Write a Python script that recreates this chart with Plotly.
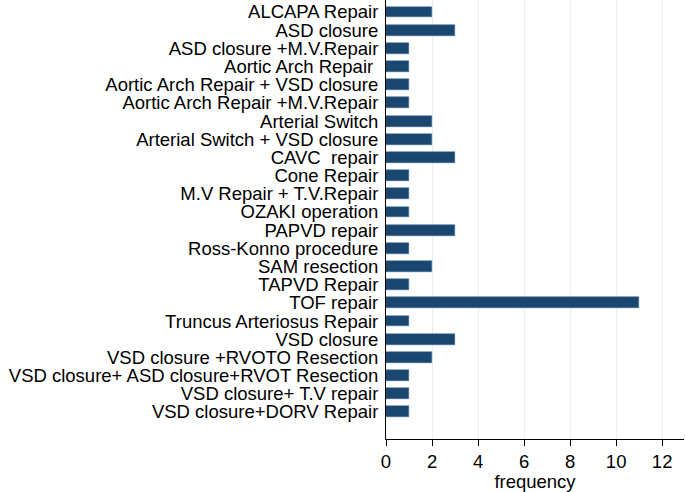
import plotly.graph_objects as go

categories = [
    "ALCAPA Repair",
    "ASD closure",
    "ASD closure +M.V.Repair",
    "Aortic Arch Repair\u00a0",
    "Aortic Arch Repair + VSD closure",
    "Aortic Arch Repair +M.V.Repair",
    "Arterial Switch",
    "Arterial Switch + VSD closure",
    "CAVC\u00a0 repair",
    "Cone Repair",
    "M.V Repair + T.V.Repair",
    "OZAKI operation",
    "PAPVD repair",
    "Ross-Konno procedure",
    "SAM resection",
    "TAPVD Repair",
    "TOF repair",
    "Truncus Arteriosus Repair",
    "VSD closure",
    "VSD closure +RVOTO Resection",
    "VSD closure+ ASD closure+RVOT Resection",
    "VSD closure+ T.V repair",
    "VSD closure+DORV Repair",
]
frequency = [2, 3, 1, 1, 1, 1, 2, 2, 3, 1, 1, 1, 3, 1, 2, 1, 11, 1, 3, 2, 1, 1, 1]
x_ticks = [0, 2, 4, 6, 8, 10, 12]

FS = 18.5

fig = go.Figure(go.Bar(
    x=frequency,
    y=list(range(len(categories))),
    orientation="h",
    width=0.6,
    marker=dict(color="#1a476f", line=dict(color="#3a6a94", width=0.5)),
))

fig.update_layout(
    width=685, height=492,
    margin=dict(l=386, r=1, t=0, b=53, autoexpand=False),
    paper_bgcolor="white", plot_bgcolor="white",
    font=dict(family="Liberation Sans, Arial, sans-serif", color="black", size=FS),
    showlegend=False,
    bargap=0,
)
fig.update_xaxes(
    range=[0, 12.95],
    tickvals=x_ticks,
    ticks="outside", ticklen=6, tickcolor="black",
    showline=True, linecolor="black", linewidth=1,
    showgrid=True, gridcolor="#e6eff3", gridwidth=1,
    zeroline=False, automargin=False,
    title=dict(text="frequency", standoff=2, font=dict(size=FS)),
    tickfont=dict(size=FS),
)
fig.update_yaxes(
    tickvals=list(range(len(categories))),
    ticktext=categories,
    range=[23.49, -0.66],
    showline=True, linecolor="black", linewidth=1,
    showgrid=False, zeroline=False, automargin=False,
    ticks="", ticklabelstandoff=3,
    tickfont=dict(size=FS),
)

fig.write_html(
    "out.html",
    config={"displayModeBar": False},
    post_script="document.body.style.margin='0';document.body.style.padding='0';",
)
